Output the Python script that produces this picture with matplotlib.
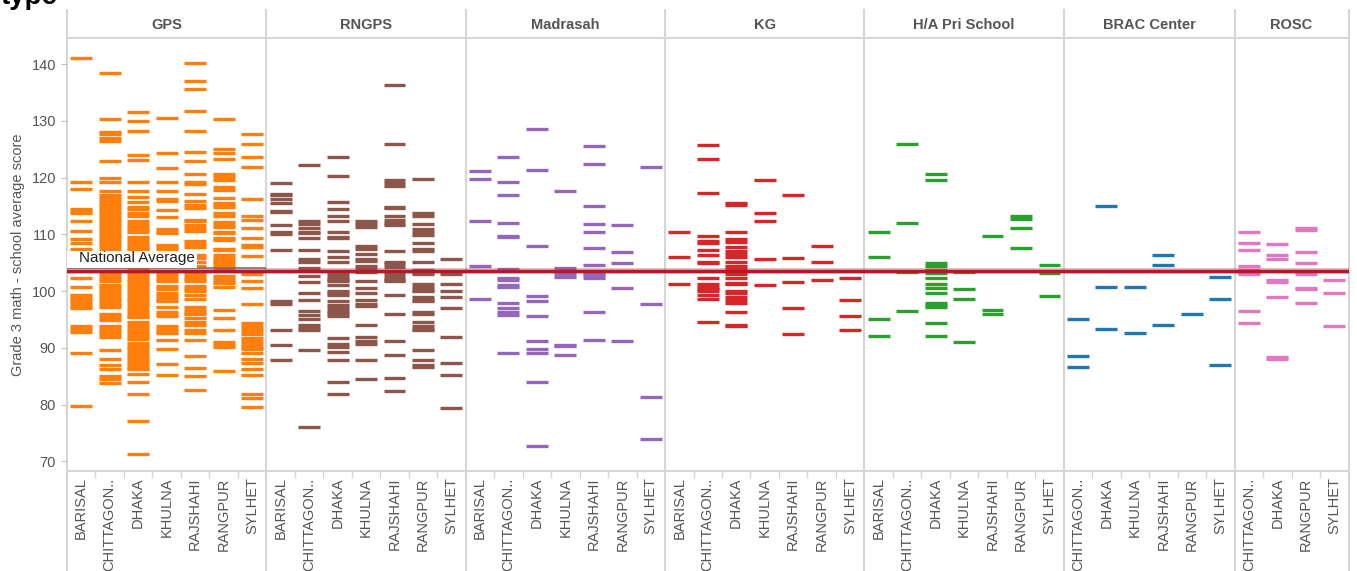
import matplotlib.pyplot as plt
from matplotlib.lines import Line2D
from matplotlib.patches import Rectangle

plt.rcParams["font.family"] = ["Liberation Sans", "DejaVu Sans"]

# school types, one facet each
PANELS = ["GPS", "RNGPS", "Madrasah", "KG", "H/A Pri School", "BRAC Center", "ROSC"]
PANEL_COLORS = ["#ff7f0e", "#8c564b", "#9467bd", "#d62728", "#2ca02c", "#1f77b4", "#e377c2"]

# school average scores per division
GPS = {
    "BARISAL": [141.0, 119.2, 118.0, 114.4, 114.05, 113.7, 112.3, 110.6, 109.2, 108.4, 107.5, 106.2,
                102.3, 100.7, 99.3, 98.8, 98.3, 97.9, 97.4, 97.0, 93.8, 93.3, 92.8, 89.1, 79.7],
    "CHITTAGONG": [138.4, 130.3, 128.1, 127.7, 126.9, 126.4, 122.9, 119.9, 119.3, 117.6,
                   116.9, 116.4, 115.9, 115.4, 114.9, 114.4, 113.9, 113.4, 112.9, 112.4, 111.9, 111.4,
                   110.9, 110.4, 109.9, 109.4, 108.9, 108.4, 107.9, 107.4, 106.5, 105.5, 104.5,
                   103.2, 102.7, 102.2, 101.7, 101.0, 100.5, 100.0, 99.5, 99.0, 98.5, 98.0, 97.6, 97.2,
                   95.9, 95.4, 94.9, 93.8, 93.3, 92.8, 92.4, 92.0, 89.6, 88.0, 87.0, 86.3,
                   85.1, 84.5, 83.9],
    "DHAKA": [131.5, 129.9, 128.2, 123.9, 123.05, 119.2, 117.7, 116.5, 115.7, 114.9, 114.5, 113.7, 113.2,
              112.3, 111.8, 111.3, 110.9, 110.4, 109.6, 109.1, 108.6, 108.1, 107.6, 107.4,
              106.9, 106.4, 105.9, 105.4, 104.9, 104.4, 103.9,
              103.2, 102.7, 102.2, 101.7, 101.2, 100.7, 100.2, 99.7, 99.2, 98.7, 98.2, 97.7, 97.2, 96.7,
              96.2, 95.7, 95.5, 94.5, 94.0, 93.5, 93.0, 92.5, 92.0, 91.6,
              90.9, 90.4, 89.9, 89.4, 88.9, 88.4, 87.9, 87.4, 86.9, 86.4, 86.2,
              85.4, 84.0, 81.9, 77.1, 71.3],
    "KHULNA": [130.45, 124.3, 121.65, 119.2, 117.6, 116.2, 115.8, 114.25, 113.0, 110.9, 110.5, 110.2,
               108.2, 107.8, 107.4, 106.5, 103.2, 102.7, 102.2, 101.7, 100.9, 100.4, 99.6, 99.1, 98.6, 98.2,
               97.2, 96.4, 96.0, 95.7, 93.8, 93.3, 92.8, 92.6, 91.35, 89.8, 87.1, 85.2],
    "RAJSHAHI": [140.2, 137.1, 135.6, 131.7, 128.3, 124.5, 122.95, 120.6, 119.2, 118.9, 117.1, 115.9,
                 115.1, 114.6, 112.6, 112.3, 111.6, 111.1, 110.6, 108.8, 108.3, 107.8,
                 106.3, 105.8, 105.1, 104.5, 103.2, 102.7, 102.2, 101.7, 100.9, 100.4, 100.0, 99.3, 98.7,
                 97.2, 96.7, 96.2, 95.9, 95.2, 94.5, 94.0, 93.1, 92.6, 91.35, 88.55, 86.4, 85.0, 82.6],
    "RANGPUR": [130.3, 125.0, 124.3, 123.2, 120.6, 120.1, 119.6, 118.3, 117.8, 116.4, 115.6, 115.2, 114.9,
                113.7, 113.2, 112.1, 111.7, 111.3, 110.5, 110.2, 109.4, 109.0, 107.5, 107.2,
                106.3, 105.8, 105.3, 105.1, 104.6, 104.0, 102.6, 102.1, 101.6, 101.4, 100.7,
                96.65, 95.2, 93.1, 91.0, 90.5, 90.1, 85.9],
    "SYLHET": [127.6, 125.9, 123.6, 121.8, 116.2, 113.2, 112.6, 111.1, 109.3, 108.2, 107.7, 106.2,
               103.1, 101.75, 100.5, 97.7, 94.3, 93.8, 93.3, 92.9, 92.45, 91.7, 91.2, 90.7, 90.2, 89.8,
               89.15, 88.0, 87.3, 86.3, 85.2, 81.9, 81.2, 79.5],
}

RNGPS = {
    "BARISAL": [119.0, 117.2, 116.9, 116.2, 115.5, 114.2, 113.9, 111.6, 110.5, 110.0, 107.2,
                98.2, 97.7, 93.1, 90.5, 87.85],
    "CHITTAGONG": [122.2, 112.3, 111.8, 111.1, 110.5, 110.2, 109.3, 107.2, 105.6, 105.1, 104.0,
                   102.6, 101.6, 99.6, 98.4, 96.5, 95.8, 95.1, 94.0, 93.5, 93.1, 89.6, 76.05],
    "DHAKA": [123.6, 120.2, 115.7, 114.4, 113.2, 112.3, 110.4, 109.6, 109.3, 107.0, 106.0, 105.1,
              103.4, 102.9, 102.4, 101.9, 101.7, 101.05, 100.1, 99.7, 99.3, 98.3,
              97.5, 97.0, 96.5, 96.1, 95.7, 91.8, 90.6, 90.1, 89.25, 87.9, 84.0, 81.9],
    "KHULNA": [112.3, 111.9, 111.25, 107.9, 107.4, 106.5, 105.6, 105.3, 104.4, 103.9, 103.3,
               101.8, 100.5, 99.6, 98.4, 97.8, 97.3, 94.0, 91.9, 91.2, 90.6, 87.85, 84.5],
    "RAJSHAHI": [136.3, 125.9, 119.5, 119.0, 118.5, 114.9, 114.6, 113.2, 112.5, 112.0, 111.6, 107.0,
                 105.1, 104.7, 104.3, 103.4, 102.9, 102.4, 101.9, 101.7, 99.3, 95.95, 91.2, 88.7,
                 84.7, 82.4],
    "RANGPUR": [119.7, 113.7, 113.2, 111.8, 110.9, 110.5, 109.85, 108.4, 107.5, 107.0, 105.1,
                103.8, 103.3, 103.1, 101.2, 100.7, 100.2, 100.0, 98.9, 98.5, 98.2, 96.4, 95.9,
                94.6, 93.8, 93.4, 93.1, 89.6, 87.85, 86.9, 86.6],
    "SYLHET": [105.6, 103.0, 101.2, 100.0, 98.9, 97.0, 91.9, 87.3, 85.2, 79.4],
}

MADRASAH = {
    "BARISAL": [121.1, 119.7, 112.3, 104.4, 98.6],
    "CHITTAGONG": [123.6, 119.2, 116.9, 112.0, 109.8, 109.5, 103.9, 102.3, 101.9, 101.0, 100.7,
                   97.9, 97.0, 96.3, 95.8, 89.1],
    "DHAKA": [128.5, 121.3, 107.9, 99.1, 98.2, 95.6, 91.2, 89.8, 89.1, 84.0, 72.7],
    "KHULNA": [117.6, 104.0, 103.5, 103.1, 102.5, 90.5, 90.3, 88.7],
    "RAJSHAHI": [125.5, 122.35, 114.95, 111.8, 110.4, 107.6, 104.6, 103.1, 102.9, 102.3, 96.3, 91.35],
    "RANGPUR": [111.6, 106.9, 104.9, 100.5, 91.2],
    "SYLHET": [121.8, 97.7, 81.3, 73.9],
}

KG = {
    "BARISAL": [110.4, 106.0, 101.2],
    "CHITTAGONG": [125.7, 123.2, 117.25, 109.7, 108.9, 108.4, 107.3, 106.3, 105.1, 104.9, 102.3,
                   101.2, 100.8, 100.4, 100.0, 99.3, 98.6, 94.5],
    "DHAKA": [115.6, 115.1, 110.4, 109.1, 108.6, 107.8, 107.0, 106.5, 106.0, 105.2, 104.4, 103.9,
              103.4, 103.0, 102.3, 101.5, 101.2, 100.1, 99.6, 98.9, 98.4, 97.9, 96.3, 94.1, 93.8],
    "KHULNA": [119.5, 113.7, 112.3, 105.6, 101.05],
    "RAJSHAHI": [116.9, 105.8, 101.6, 97.0, 92.4],
    "RANGPUR": [107.9, 105.1, 101.9],
    "SYLHET": [102.3, 98.4, 95.6, 93.1],
}

HA_PRI = {
    "BARISAL": [110.4, 106.0, 95.07, 92.1],
    "CHITTAGONG": [125.9, 111.97, 103.3, 96.5],
    "DHAKA": [120.6, 119.5, 104.9, 104.4, 103.8, 103.2, 102.3, 101.2, 100.5, 99.6, 97.9, 97.5, 97.2,
              94.4, 92.1],
    "KHULNA": [103.3, 100.35, 98.6, 91.0],
    "RAJSHAHI": [109.7, 96.65, 95.95],
    "RANGPUR": [113.2, 112.7, 111.1, 107.6],
    "SYLHET": [104.6, 103.2, 99.1],
}

BRAC = {
    "CHITTAGONG": [95.07, 88.56, 86.6],
    "DHAKA": [114.96, 100.7, 93.3],
    "KHULNA": [100.7, 92.6],
    "RAJSHAHI": [106.3, 104.6, 94.0],
    "RANGPUR": [95.95],
    "SYLHET": [102.47, 98.6, 86.97],
}

ROSC = {
    "CHITTAGONG": [110.4, 108.45, 107.2, 104.4, 103.7, 103.0, 96.5, 94.4],
    "DHAKA": [108.3, 106.3, 105.6, 101.9, 101.6, 98.9, 88.4, 88.0],
    "RANGPUR": [111.2, 110.7, 106.9, 104.9, 103.0, 100.5, 100.3, 97.9],
    "SYLHET": [101.9, 99.6, 93.8],
}

PANEL_DATA = [GPS, RNGPS, MADRASAH, KG, HA_PRI, BRAC, ROSC]

NATIONAL_AVG = 103.6
Y_TICKS = [70, 80, 90, 100, 110, 120, 130, 140]

# layout in pixels
W, H = 1357, 571
LEFT, RIGHT = 67, 1348.5
HEAD_TOP, TOP, BOTTOM = 10, 38, 470.5
GRID = "#d6d6d6"
TEXT = "#555555"


def short(name):
    return name if len(name) <= 9 else name[:9] + ".."


fig = plt.figure(figsize=(W / 100, H / 100), dpi=100)
n_total = sum(len(d) for d in PANEL_DATA)
col_w = (RIGHT - LEFT) / n_total

x = LEFT
bounds = [LEFT]
for k, (name, color, data) in enumerate(zip(PANELS, PANEL_COLORS, PANEL_DATA)):
    n = len(data)
    w = n * col_w
    ax = fig.add_axes([x / W, 1 - BOTTOM / H, w / W, (BOTTOM - TOP) / H])
    ax.patch.set_visible(False)

    for i, vals in enumerate(data.values()):
        ax.hlines(vals, i - 0.385, i + 0.385, colors=color, lw=2.4, capstyle="butt", zorder=2)

    ax.axhline(NATIONAL_AVG, color="#c8323f", lw=4.0, alpha=0.4, zorder=4)
    ax.axhline(NATIONAL_AVG, color="#b5172b", lw=2.4, zorder=5)

    ax.set_xlim(-0.5, n - 0.5)
    ax.set_ylim(68.4, 144.6)
    ax.set_xticks(range(n))
    ax.set_xticklabels([short(d) for d in data], rotation=90, color=TEXT, fontsize=10.5,
                       va="top")
    ax.set_xticks([i + 0.5 for i in range(n - 1)], minor=True)
    ax.tick_params(axis="x", which="major", length=0, pad=5)
    ax.tick_params(axis="x", which="minor", length=5, color=GRID, width=1)
    for s in ["left", "right", "top"]:
        ax.spines[s].set_visible(False)
    ax.spines["bottom"].set_color(GRID)
    ax.spines["bottom"].set_linewidth(1.5)

    if k == 0:
        ax.set_yticks(Y_TICKS)
        ax.tick_params(axis="y", length=4.3, color="#c0c0c0", labelcolor=TEXT,
                       labelsize=10.5, pad=3.6)
        # reference line label
        ax.hlines(104.0, -0.5, n - 0.5, colors="#6e6e6e", lw=1.1, zorder=3)
        ax.add_patch(Rectangle((-0.5, 104.1), 4.57, 3.0, facecolor="white",
                               edgecolor="none", zorder=3.5))
        ax.text(-0.08, 105.8, "National Average", fontsize=11, color="#222222",
                ha="left", va="center", zorder=6)
    else:
        ax.tick_params(axis="y", left=False, labelleft=False)

    # facet header
    hx = fig.add_axes([x / W, 1 - TOP / H, w / W, (TOP - HEAD_TOP) / H])
    hx.axis("off")
    hx.text(0.5, 0.45, name, ha="center", va="center", fontweight="bold",
            color=TEXT, fontsize=10.5)

    x += w
    bounds.append(x)

# panel separators running through header and label strip
for bx in bounds:
    fig.add_artist(Line2D([bx / W, bx / W], [0, 1 - HEAD_TOP / H], transform=fig.transFigure,
                          color=GRID, lw=1.5, zorder=-1))
fig.add_artist(Line2D([LEFT / W, RIGHT / W], [1 - TOP / H, 1 - TOP / H],
                      transform=fig.transFigure, color=GRID, lw=1.5, zorder=-1))

fig.text(18 / W, 1 - (TOP + BOTTOM) / 2 / H, "Grade 3 math - school average score",
         rotation=90, ha="center", va="center", color=TEXT, fontsize=10.5)
fig.text(1 / W, 1 - 4 / H, "type", fontsize=20, fontweight="bold", ha="left",
         va="baseline", color="black")

fig.savefig("out.png", dpi=100)
